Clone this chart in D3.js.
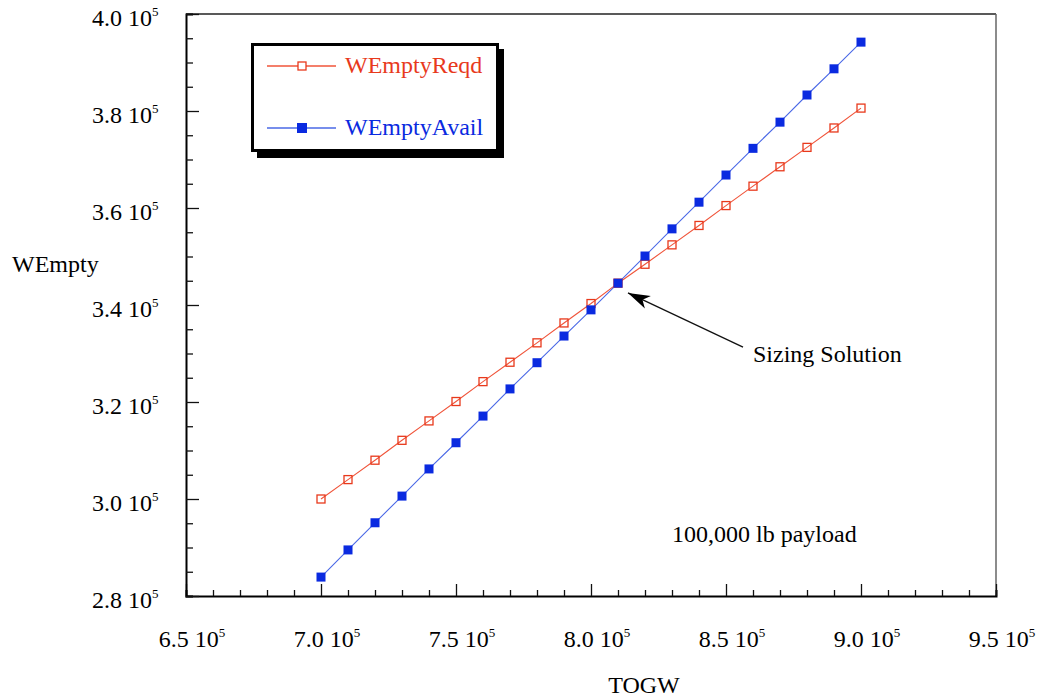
<!DOCTYPE html>
<html><head><meta charset="utf-8">
<script src="https://cdn.jsdelivr.net/npm/d3@7"></script>
<style>body{margin:0;background:#fff}svg{display:block}text{font-family:"Liberation Serif","Times New Roman","DejaVu Serif",serif}</style>
</head><body>
<svg id="c" width="1039" height="698"></svg>
<script>
const togw = [7.0e5,7.1e5,7.2e5,7.3e5,7.4e5,7.5e5,7.6e5,7.7e5,7.8e5,7.9e5,8.0e5,8.1e5,8.2e5,8.3e5,8.4e5,8.5e5,8.6e5,8.7e5,8.8e5,8.9e5,9.0e5];
const wEmptyReqd = [3.000e5,3.040e5,3.080e5,3.121e5,3.161e5,3.201e5,3.242e5,3.282e5,3.322e5,3.363e5,3.403e5,3.445e5,3.484e5,3.524e5,3.564e5,3.605e5,3.645e5,3.685e5,3.725e5,3.765e5,3.806e5];
const wEmptyAvail = [2.839e5,2.895e5,2.951e5,3.006e5,3.062e5,3.116e5,3.171e5,3.227e5,3.281e5,3.336e5,3.390e5,3.445e5,3.501e5,3.557e5,3.612e5,3.668e5,3.723e5,3.777e5,3.833e5,3.887e5,3.942e5];
const xTickVals = [6.5e5,7.0e5,7.5e5,8.0e5,8.5e5,9.0e5,9.5e5];
const xTickLabels = ["6.5","7.0","7.5","8.0","8.5","9.0","9.5"];
const yTickVals = [2.8e5,3.0e5,3.2e5,3.4e5,3.6e5,3.8e5,4.0e5];
const yTickLabels = ["2.8","3.0","3.2","3.4","3.6","3.8","4.0"];
const seriesNames = ["WEmptyReqd","WEmptyAvail"];
const annotation = {text:"Sizing Solution", tip:[8.137e5,3.425e5], tail:[8.563e5,3.313e5], label:[8.6e5,3.2825e5]};
const note = {text:"100,000 lb payload", pos:[8.3e5,2.911e5]};

const svg = d3.select("#c");
const L=186,R=996,T=14,B=596;
const x = d3.scaleLinear().domain([6.5e5,9.5e5]).range([L,R]);
const y = d3.scaleLinear().domain([2.8e5,4.0e5]).range([B,T]);
const red="#e8391c", redLine="#f0543a", blue="#0a2ae0", blueLine="#4a68e6";
const ink="#000";

// frame top/right
svg.append("line").attr("x1",L).attr("x2",R).attr("y1",T).attr("y2",T).attr("stroke","#222").attr("stroke-width",1.5);
svg.append("line").attr("x1",R).attr("x2",R).attr("y1",T).attr("y2",B).attr("stroke","#666").attr("stroke-width",1.5);

// x axis with inward ticks
const xMinor = d3.range(6.5e5,9.5e5+1,1e4);
const gx = svg.append("g").attr("transform",`translate(0,${B})`);
gx.call(d3.axisTop(x).tickValues(xMinor).tickSize(6).tickFormat(""));
gx.selectAll(".tick line").attr("stroke","#111").attr("stroke-width",1.3)
  .attr("y2",d=>xTickVals.some(v=>Math.abs(v-d)<1)? -12 : -6);
gx.select(".domain").attr("stroke","#000").attr("stroke-width",2);
const xl = svg.append("g").selectAll("text").data(xTickVals).join("text")
  .attr("x",d=>x(d)+6).attr("y",647).attr("text-anchor","middle").attr("font-size",24).attr("fill",ink);
xl.append("tspan").text((d,i)=>xTickLabels[i]+" 10");
xl.append("tspan").attr("font-size",13).attr("dy",-10).text("5");

// y axis with inward ticks
const yMinor = d3.range(2.8e5,4.0e5+1,5e3);
const gy = svg.append("g").attr("transform",`translate(${L},0)`);
gy.call(d3.axisRight(y).tickValues(yMinor).tickSize(7).tickFormat(""));
gy.selectAll(".tick line").attr("stroke","#111").attr("stroke-width",1.3)
  .attr("x2",d=>yTickVals.some(v=>Math.abs(v-d)<1)? 13 : 7);
gy.select(".domain").attr("stroke","#000").attr("stroke-width",2);
const yl = svg.append("g").selectAll("text").data(yTickVals).join("text")
  .attr("x",92).attr("y",d=>y(d)+12).attr("text-anchor","start").attr("font-size",24).attr("fill",ink);
yl.append("tspan").text((d,i)=>yTickLabels[i]+" 10");
yl.append("tspan").attr("font-size",13).attr("dy",-10).text("5");

// axis titles
svg.append("text").attr("x",12).attr("y",272).attr("font-size",24).attr("fill",ink).text("WEmpty");
svg.append("text").attr("x",644).attr("y",693).attr("text-anchor","middle").attr("font-size",24).attr("fill",ink).text("TOGW");

// lines
const line = d3.line().x(d=>x(d[0])).y(d=>y(d[1]));
const redPts = togw.map((t,i)=>[t,wEmptyReqd[i]]);
const bluePts = togw.map((t,i)=>[t,wEmptyAvail[i]]);
svg.append("path").attr("d",line(redPts)).attr("fill","none").attr("stroke",redLine).attr("stroke-width",1.1);
svg.append("path").attr("d",line(bluePts)).attr("fill","none").attr("stroke",blueLine).attr("stroke-width",1.1);
svg.append("g").selectAll("rect").data(redPts).join("rect")
  .attr("x",d=>x(d[0])-4).attr("y",d=>y(d[1])-4).attr("width",8).attr("height",8)
  .attr("fill","none").attr("stroke",red).attr("stroke-width",1.3);
svg.append("g").selectAll("rect").data(bluePts).join("rect")
  .attr("x",d=>x(d[0])-4.5).attr("y",d=>y(d[1])-4.5).attr("width",9).attr("height",9)
  .attr("fill",blue);

// annotation arrow
const tip=[x(annotation.tip[0]),y(annotation.tip[1])], tail=[x(annotation.tail[0]),y(annotation.tail[1])];
svg.append("line").attr("x1",tail[0]).attr("y1",tail[1]).attr("x2",tip[0]).attr("y2",tip[1]).attr("stroke","#111").attr("stroke-width",1.3);
{
  const ang=Math.atan2(tail[1]-tip[1],tail[0]-tip[0]);
  const len=22, w=7, back=16;
  const p=(d,o)=>[tip[0]+d*Math.cos(ang)-o*Math.sin(ang), tip[1]+d*Math.sin(ang)+o*Math.cos(ang)];
  const pts=[p(0,0),p(len,w),p(back,0),p(len,-w)];
  svg.append("path").attr("d","M"+pts.map(q=>q.join(",")).join("L")+"Z").attr("fill","#000");
}
svg.append("text").attr("x",x(annotation.label[0])).attr("y",y(annotation.label[1])).attr("font-size",24).attr("fill",ink).text(annotation.text);
svg.append("text").attr("x",x(note.pos[0])).attr("y",y(note.pos[1])).attr("font-size",24).attr("fill",ink).text(note.text);

// legend
const lg = svg.append("g");
lg.append("rect").attr("x",257).attr("y",49).attr("width",247).attr("height",109).attr("fill","#000");
lg.append("rect").attr("x",252.5).attr("y",44.5).attr("width",245).attr("height",106).attr("fill","#fff").attr("stroke","#000").attr("stroke-width",3);
const items=[{name:seriesNames[0],c:red,lc:redLine,filled:false,y:66},{name:seriesNames[1],c:blue,lc:blueLine,filled:true,y:128}];
items.forEach(it=>{
  lg.append("line").attr("x1",267).attr("x2",336).attr("y1",it.y).attr("y2",it.y).attr("stroke",it.lc).attr("stroke-width",1.3);
  if(it.filled) lg.append("rect").attr("x",302-5).attr("y",it.y-5).attr("width",10).attr("height",10).attr("fill",it.c);
  else lg.append("rect").attr("x",302-4).attr("y",it.y-4).attr("width",8).attr("height",8).attr("fill","#fff").attr("stroke",it.c).attr("stroke-width",1.3);
  lg.append("text").attr("x",345).attr("y",it.y+7).attr("font-size",24).attr("fill",it.c).text(it.name);
});
</script>
</body></html>
